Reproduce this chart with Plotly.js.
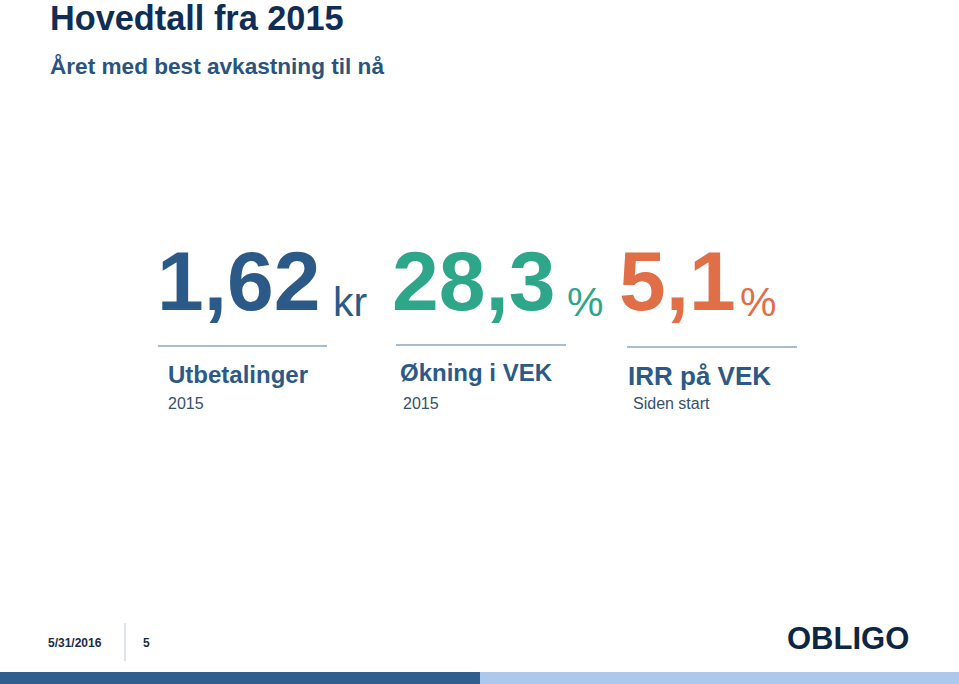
<!DOCTYPE html>
<html>
<head>
<meta charset="utf-8">
<script src="https://cdn.plot.ly/plotly-3.0.1.min.js"></script>
<style>html,body{margin:0;padding:0;background:#fff;}#chart{width:959px;height:684px;}</style>
</head>
<body>
<div id="chart"></div>
<script>
// ---- data ----
const titleText = "Hovedtall fra 2015";
const subtitleText = "Året med best avkastning til nå";
const values = [1.62, 28.3, 5.1];
const units = ["kr", "%", "%"];
const labels = ["Utbetalinger", "Økning i VEK", "IRR på VEK"];
const sublabels = ["2015", "2015", "Siden start"];
const footerDate = "5/31/2016";
const pageNumber = "5";
const logoText = "OBLIGO";

// ---- styles / layout ----
const valueColors = ["#2c5a88", "#2ea68a", "#e06e46"];
const numRight = [323, 558, 738];
const unitLeft = [331, 565, 738];
const lineX = [[158, 327], [396, 566], [627, 797]];
const lineY = [346, 345, 347];
const labelX = [166, 398, 626];
const labelY = [374, 372, 376];
const labelSize = [24, 24, 26];
const subX = [166, 401, 631];
const FONT = "Liberation Sans, Arial, Helvetica, sans-serif";

const fmt = v => String(v).replace('.', ',');

const annotations = [];
const shapes = [];

annotations.push({x: 48, y: 17.5, xref: 'x', yref: 'y', xanchor: 'left', yanchor: 'middle', showarrow: false,
  text: '<b>' + titleText + '</b>', font: {family: FONT, size: 34.3, color: '#0f2d55'}});
annotations.push({x: 48, y: 66, xref: 'x', yref: 'y', xanchor: 'left', yanchor: 'middle', showarrow: false,
  text: '<b>' + subtitleText + '</b>', font: {family: FONT, size: 22.6, color: '#2a5480'}});

values.forEach((v, i) => {
  annotations.push({x: numRight[i], y: 281, xref: 'x', yref: 'y', xanchor: 'right', yanchor: 'middle', showarrow: false,
    text: '<b>' + fmt(v) + '</b>', font: {family: FONT, size: 84, color: valueColors[i]}});
  annotations.push({x: unitLeft[i], y: 302, xref: 'x', yref: 'y', xanchor: 'left', yanchor: 'middle', showarrow: false,
    text: units[i], font: {family: FONT, size: 41, color: valueColors[i]}});
  shapes.push({type: 'line', xref: 'x', yref: 'y', x0: lineX[i][0], x1: lineX[i][1], y0: lineY[i], y1: lineY[i],
    line: {color: '#a8bdcf', width: 2}});
  annotations.push({x: labelX[i], y: labelY[i], xref: 'x', yref: 'y', xanchor: 'left', yanchor: 'middle', showarrow: false,
    text: '<b>' + labels[i] + '</b>', font: {family: FONT, size: labelSize[i], color: '#2c5a88'}});
  annotations.push({x: subX[i], y: 403, xref: 'x', yref: 'y', xanchor: 'left', yanchor: 'middle', showarrow: false,
    text: sublabels[i], font: {family: FONT, size: 16, color: '#34506e'}});
});

// footer
annotations.push({x: 46, y: 643, xref: 'x', yref: 'y', xanchor: 'left', yanchor: 'middle', showarrow: false,
  text: '<b>' + footerDate + '</b>', font: {family: FONT, size: 12, color: '#1c2c46'}});
annotations.push({x: 141, y: 643, xref: 'x', yref: 'y', xanchor: 'left', yanchor: 'middle', showarrow: false,
  text: '<b>' + pageNumber + '</b>', font: {family: FONT, size: 12, color: '#1c2c46'}});
shapes.push({type: 'line', xref: 'x', yref: 'y', x0: 125, x1: 125, y0: 623, y1: 661, line: {color: '#b8c8d8', width: 1}});
annotations.push({x: 848, y: 638, xref: 'x', yref: 'y', xanchor: 'center', yanchor: 'middle', showarrow: false,
  text: '<b>' + logoText + '</b>', font: {family: FONT, size: 31, color: '#0e2646'}});

// bottom bar
shapes.push({type: 'rect', xref: 'x', yref: 'y', x0: 0, x1: 480, y0: 672, y1: 684, line: {width: 0}, fillcolor: '#2f5f8f'});
shapes.push({type: 'rect', xref: 'x', yref: 'y', x0: 480, x1: 959, y0: 672, y1: 684, line: {width: 0}, fillcolor: '#adc8eb'});

const layout = {
  width: 959, height: 684,
  margin: {l: 0, r: 0, t: 0, b: 0, pad: 0},
  paper_bgcolor: '#ffffff', plot_bgcolor: '#ffffff',
  xaxis: {range: [0, 959], visible: false, fixedrange: true},
  yaxis: {range: [684, 0], visible: false, fixedrange: true},
  showlegend: false,
  annotations: annotations,
  shapes: shapes
};

Plotly.newPlot('chart', [], layout, {displayModeBar: false, staticPlot: true});
</script>
</body>
</html>
